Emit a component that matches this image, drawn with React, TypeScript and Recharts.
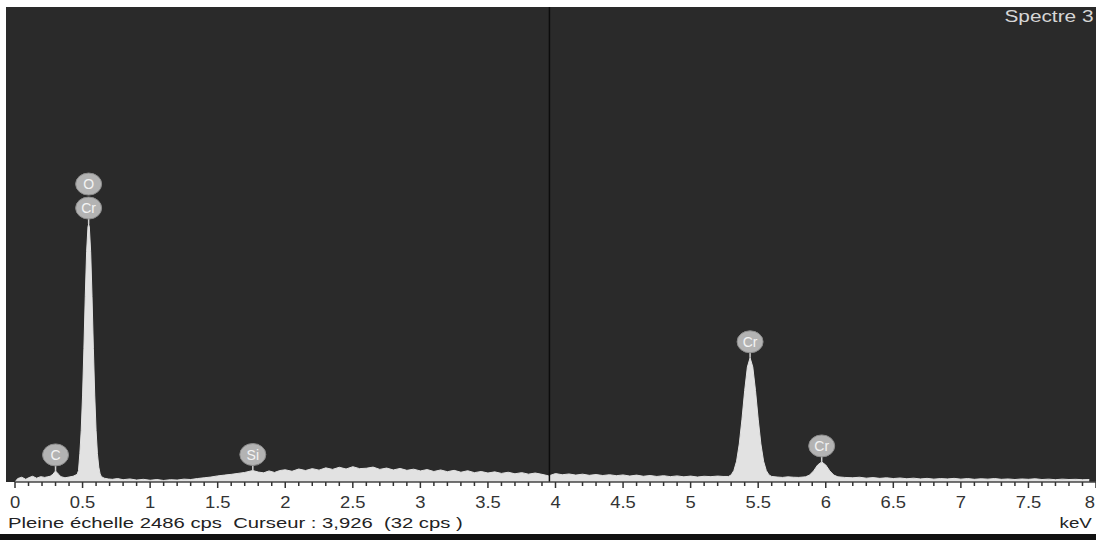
import React from 'react';
import { ComposedChart, Area, XAxis, YAxis, ReferenceLine, ReferenceDot } from 'recharts';

// EDS spectrum, keV vs counts
const energy = [
  0.0, 0.02, 0.05, 0.08, 0.1, 0.13, 0.16, 0.19, 0.22, 0.24, 0.26, 0.28, 0.3, 0.32, 0.34, 0.37, 0.4, 0.43,
  0.46, 0.47, 0.48, 0.49, 0.5, 0.51, 0.52, 0.53, 0.54, 0.545, 0.55, 0.56, 0.57, 0.58, 0.59, 0.6, 0.61,
  0.62, 0.63, 0.64, 0.66, 0.69, 0.72, 0.76, 0.8, 0.85, 0.9, 0.95, 1.0, 1.05, 1.1, 1.15, 1.2, 1.25, 1.3,
  1.35, 1.4, 1.45, 1.5, 1.55, 1.6, 1.65, 1.7, 1.76, 1.8, 1.84, 1.88, 1.92, 1.96, 2.0, 2.05, 2.1, 2.15,
  2.2, 2.25, 2.3, 2.35, 2.4, 2.45, 2.5, 2.55, 2.6, 2.65, 2.7, 2.75, 2.8, 2.85, 2.9, 2.95, 3.0, 3.05,
  3.1, 3.15, 3.2, 3.25, 3.3, 3.35, 3.4, 3.45, 3.5, 3.55, 3.6, 3.65, 3.7, 3.75, 3.8, 3.85, 3.9, 3.95,
  4.0, 4.05, 4.1, 4.15, 4.2, 4.25, 4.3, 4.35, 4.4, 4.45, 4.5, 4.55, 4.6, 4.65, 4.7, 4.75, 4.8, 4.85,
  4.9, 4.95, 5.0, 5.05, 5.1, 5.15, 5.2, 5.24, 5.28, 5.3, 5.32, 5.34, 5.36, 5.38, 5.4, 5.42, 5.44, 5.46,
  5.48, 5.5, 5.52, 5.54, 5.56, 5.58, 5.6, 5.64, 5.68, 5.72, 5.76, 5.8, 5.85, 5.88, 5.91, 5.94, 5.97,
  6.0, 6.03, 6.06, 6.09, 6.14, 6.2, 6.25, 6.3, 6.35, 6.4, 6.45, 6.5, 6.55, 6.6, 6.65, 6.7, 6.75, 6.8,
  6.85, 6.9, 6.95, 7.0, 7.05, 7.1, 7.15, 7.2, 7.25, 7.3, 7.35, 7.4, 7.45, 7.5, 7.55, 7.6, 7.65, 7.7,
  7.75, 7.8, 7.85, 7.9, 7.95, 8.0,
];
const counts = [
  0, 18, 25, 14, 22, 30, 20, 28, 24, 27, 30, 40, 58, 42, 28, 22, 26, 30,
  40, 60, 150, 270, 455, 700, 970, 1205, 1335, 1350, 1335, 1205, 970, 700, 455, 270, 148,
  78, 42, 28, 20, 16, 14, 18, 12, 16, 10, 14, 9, 13, 8, 12, 10, 15, 13,
  18, 22, 26, 32, 36, 40, 45, 50, 60, 52, 48, 58, 50, 60, 64, 56, 68, 60,
  70, 62, 74, 66, 77, 68, 80, 70, 72, 78, 66, 73, 63, 71, 61, 67, 58, 65,
  55, 63, 54, 61, 51, 59, 49, 55, 47, 53, 45, 51, 43, 49, 41, 47, 40, 32,
  44, 38, 42, 36, 41, 35, 39, 34, 38, 33, 37, 31, 36, 30, 34, 29, 33, 28,
  32, 27, 31, 26, 30, 28, 31, 29, 29, 37, 60, 109, 199, 329, 479, 602, 650, 602,
  479, 329, 199, 109, 60, 37, 29, 26, 24, 27, 25, 24, 27, 36, 58, 89, 105,
  89, 58, 36, 27, 24, 22, 25, 20, 23, 19, 22, 18, 21, 17, 20, 16, 19,
  15, 18, 16, 19, 15, 18, 14, 17, 15, 18, 14, 16, 13, 16, 14, 17, 13, 15,
  12, 15, 13, 14, 12, 13,
];
const tickLabels = ['0', '0.5', '1', '1.5', '2', '2.5', '3', '3.5', '4', '4.5', '5', '5.5', '6', '6.5', '7', '7.5', '8'];
const allTicks = Array.from({ length: 81 }, (_, i) => i / 10);

const markers = [
  { label: 'C', kev: 0.3, cps: 58, level: 0 },
  { label: 'Cr', kev: 0.545, cps: 1350, level: 0 },
  { label: 'O', kev: 0.545, cps: 1350, level: 1 },
  { label: 'Si', kev: 1.76, cps: 60, level: 0 },
  { label: 'Cr', kev: 5.44, cps: 650, level: 0 },
  { label: 'Cr', kev: 5.97, cps: 105, level: 0 },
];

const fullScale = 2486;
const cursorKev = 3.955;

const data = energy.map((e, i) => ({ kev: e, cps: counts[i] }));

const font = '"Liberation Sans", Arial, sans-serif';

const Tick = (props: any) => {
  const { x, y, payload } = props;
  const step = Math.round(payload.value * 10);
  const major = step % 5 === 0;
  const last = step === 80;
  return (
    <g>
      <line x1={x} x2={x} y1={y} y2={y + (major ? 6 : 4)} stroke="#333" strokeWidth={1.5} />
      {major && (
        <text
          transform={`translate(${last ? x - 1 : x},${y + 26}) scale(1.15,1)`}
          textAnchor={last ? 'end' : 'middle'}
          fontSize={16}
          fontFamily={font}
          fill="#333"
        >
          {tickLabels[step / 5]}
        </text>
      )}
    </g>
  );
};

const Marker = (props: any) => {
  const { cx, cy, label, level } = props;
  const cyc = cy - 16 - level * 24;
  return (
    <g>
      {level === 0 && <line x1={cx} x2={cx} y1={cy} y2={cyc + 10} stroke="#d0d0d0" strokeWidth={1.5} />}
      <ellipse cx={cx} cy={cyc} rx={13} ry={11} fill="#b3b3b3" stroke="#8c8c8c" strokeWidth={1} />
      <text x={cx} y={cyc + 5} textAnchor="middle" fontSize={14} fontFamily={font} fill="#f4f4f4">
        {label}
      </text>
    </g>
  );
};

export default function App() {
  return (
    <div style={{ position: 'absolute', left: 0, top: 0, width: 1096, height: 540, background: '#fff', overflow: 'hidden' }}>
      <div style={{ position: 'absolute', left: 6, top: 7, width: 1090, height: 475, background: '#2a2a2a' }} />
      <div style={{ position: 'absolute', left: 0, top: 534, width: 1096, height: 6, background: '#111' }} />
      <div style={{ position: 'absolute', left: 0, top: 0 }}>
        <ComposedChart width={1096} height={540} data={data} margin={{ top: 7, right: 0, left: 15, bottom: 6 }}>
          <XAxis
            dataKey="kev"
            type="number"
            domain={[0, 8]}
            ticks={allTicks}
            interval={0}
            height={52}
            tickSize={0}
            tickMargin={0}
            tickLine={false}
            axisLine={{ stroke: '#444', strokeWidth: 1.5 }}
            tick={<Tick />}
            allowDataOverflow
          />
          <YAxis hide domain={[0, fullScale]} allowDataOverflow />
          <Area
            type="linear"
            dataKey="cps"
            stroke="#e2e2e2"
            strokeWidth={1}
            fill="#e2e2e2"
            fillOpacity={1}
            dot={false}
            activeDot={false}
            isAnimationActive={false}
          />
          <ReferenceLine x={cursorKev} stroke="#0c0c0c" strokeWidth={1.5} />
          {markers.map((m, i) => (
            <ReferenceDot
              key={i}
              x={m.kev}
              y={m.cps}
              r={0}
              shape={(p: any) => <Marker cx={p.cx} cy={p.cy} label={m.label} level={m.level} />}
            />
          ))}
        </ComposedChart>
      </div>
      <div
        style={{
          position: 'absolute', right: 3, top: 8, fontFamily: font, fontSize: 16, lineHeight: '18px',
          color: '#d6d6d6', transform: 'scaleX(1.3)', transformOrigin: 'right top', whiteSpace: 'nowrap',
        }}
      >
        Spectre 3
      </div>
      <div
        style={{
          position: 'absolute', left: 8, top: 514, fontFamily: font, fontSize: 15, lineHeight: '18px',
          color: '#222', transform: 'scaleX(1.35)', transformOrigin: 'left top', whiteSpace: 'pre',
        }}
      >
        {'Pleine échelle 2486 cps  Curseur : 3,926  (32 cps )'}
      </div>
      <div
        style={{
          position: 'absolute', right: 4, top: 514, fontFamily: font, fontSize: 15, lineHeight: '18px',
          color: '#222', transform: 'scaleX(1.25)', transformOrigin: 'right top', whiteSpace: 'nowrap',
        }}
      >
        keV
      </div>
    </div>
  );
}
